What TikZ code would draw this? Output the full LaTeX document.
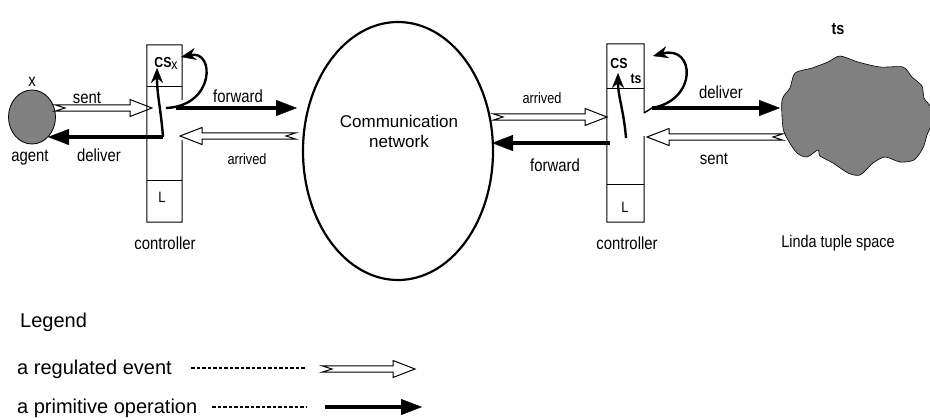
\documentclass[tikz,border=0pt]{standalone}
\usepackage{fontspec}
\setmainfont{Liberation Sans}
\newfontfamily\narrowsf{Liberation Sans}[FakeStretch=0.85]
\usetikzlibrary{positioning, arrows.meta, shapes.geometric, calc}
\definecolor{blobgray}{HTML}{808080}

\begin{document}
\begin{tikzpicture}[
    x=1pt, y=-1pt,
    lbl/.style={font=\narrowsf\fontsize{17.5}{20}\selectfont, inner sep=0pt},
    smalllbl/.style={font=\narrowsf\fontsize{15}{18}\selectfont, inner sep=0pt},
    boldlbl/.style={font=\narrowsf\bfseries\fontsize{14.5}{17}\selectfont, inner sep=0pt},
    legendtxt/.style={font=\fontsize{20}{24}\selectfont, inner sep=0pt, anchor=west},
    controller/.style={rectangle, minimum width=35pt, minimum height=177pt, inner sep=0pt},
    ctlline/.style={line width=1pt},
    divider/.style={line width=1.3pt},
    primitive/.style={line width=4pt, -{Triangle[length=21pt, width=16pt, line width=0.4pt]}},
    curvy/.style={line width=2.4pt, -{Stealth[length=15pt, width=12pt, line width=0.4pt]}},
    regulated/.style={draw=black, fill=white, line width=1pt, line join=miter,
      to path={let \p1=(\tikztostart), \p2=(\tikztotarget),
        \n1={ifthenelse(\x2>\x1,1,-1)} in
        ({\x1},{\y2+3.2pt}) -- ({\x2-\n1*22pt},{\y2+3.2pt}) -- ({\x2-\n1*22pt},{\y2+8.5pt})
        -- ({\x2},{\y2}) -- ({\x2-\n1*22pt},{\y2-8.5pt}) -- ({\x2-\n1*22pt},{\y2-3.2pt})
        -- ({\x1},{\y2-3.2pt}) -- ({\x1+\n1*10pt},{\y2}) -- cycle}},
    dashline/.style={line width=1.2pt, dash pattern=on 3.5pt off 2pt},
]
\useasboundingbox (0,0) rectangle (930,418);

% === Agent ===
\node[ellipse, draw, fill=blobgray, line width=0.8pt, minimum width=47pt,
      minimum height=54pt, inner sep=0pt] (agent) at (32,117) {};
\node[lbl] (agentx) at (32,82) {x};
\node[lbl] (agentlbl) at (30,158) {agent};

% === Communication network ===
\node[ellipse, draw, line width=2.2pt, minimum width=190pt,
      minimum height=258pt, inner sep=0pt] (net) at (398,151) {};
\node[font=\fontsize{17}{20}\selectfont, align=center, inner sep=0pt] (nettxt)
  at (399,131) {Communication\\network};

% === Linda tuple space ===
\draw[fill=blobgray, line width=0.6pt] plot[smooth cycle, tension=0.45] coordinates {
  (790,88) (795,73) (812,68) (828,62) (840,56) (858,62) (880,67) (903,67)
  (912,77) (922,86) (924,98) (931,108) (931,125) (927,135) (923,148) (914,160)
  (900,162) (885,157) (873,163) (860,175) (848,173) (833,163) (820,156)
  (818,150) (807,157) (797,153) (788,140) (783,128) (782,100)};
\node[boldlbl, font=\narrowsf\bfseries\fontsize{17}{20}\selectfont] (tstop) at (838,29) {ts};
\node[lbl, font=\narrowsf\fontsize{17}{20}\selectfont] (lindalbl) at (838,243) {Linda tuple space};

% === Controllers ===
\node[controller] (lctl) at (164.5,133.5) {};
\node[controller, minimum width=37pt, minimum height=178pt] (rctl) at (625.5,133) {};

% === Arrow end points ===
\coordinate (lsentA) at (55,108);   \coordinate (lsentB) at (152,108);
\coordinate (ldelA)  at (163,137);  \coordinate (ldelB)  at (48,137);
\coordinate (lfwdA)  at (176,108);  \coordinate (lfwdB)  at (297,108);
\coordinate (larrA)  at (296,136);  \coordinate (larrB)  at (180,136);
\coordinate (rarrA)  at (493,117);  \coordinate (rarrB)  at (607,117);
\coordinate (rfwdA)  at (610,143);  \coordinate (rfwdB)  at (492,143);
\coordinate (rdelC)  at (644,113);
\coordinate (rdelA)  at (652,108);  \coordinate (rdelB)  at (780,108);
\coordinate (rsentA) at (783,137);  \coordinate (rsentB) at (647,137);

% === Arrows ===
\draw[regulated] (lsentA) to (lsentB);
\draw[primitive] (ldelA) -- (ldelB);
\draw[primitive] (lfwdA) -- (lfwdB);
\draw[regulated] (larrA) to (larrB);
\draw[regulated] (rarrA) to (rarrB);
\draw[primitive] (rfwdA) -- (rfwdB);
\draw[line width=1.5pt] (rdelC) -- (rdelA);
\draw[primitive] (rdelA) -- (rdelB);
\draw[regulated] (rsentA) to (rsentB);

% === Controller outlines ===
\coordinate (lgapA) at (182,100); \coordinate (lgapB) at (182,140);
\coordinate (rgapA) at (644,113); \coordinate (rgapB) at (644,136);
\draw[ctlline] (lgapA) -- (lctl.north east) -- (lctl.north west)
  -- (lctl.south west) -- (lctl.south east) -- (lgapB);
\draw[ctlline] (rgapA) -- (rctl.north east) -- (rctl.north west)
  -- (rctl.south west) -- (rctl.south east) -- (rgapB);
\draw[divider] ($(lctl.north west)+(0,42)$) -- ($(lctl.north east)+(0,42)$);
\draw[divider] ($(lctl.north west)+(0,136)$) -- ($(lctl.north east)+(0,136)$);
\draw[divider] ($(rctl.north west)+(0,45)$) -- ($(rctl.north east)+(0,45)$);
\draw[divider] ($(rctl.north west)+(0,141)$) -- ($(rctl.north east)+(0,141)$);

\node[boldlbl] (lcs) at (166,63) {CS\raisebox{-2pt}{\mdseries x}};
\node[boldlbl] (rcs) at (619,64) {CS};
\node[boldlbl] (rts) at (636,78.5) {ts};
\node[smalllbl] (lL) at (162,197) {L};
\node[smalllbl] (rL) at (625,207) {L};
\node[lbl] (lctllbl) at (165,243.5) {controller};
\node[lbl] (rctllbl) at (627,243) {controller};

% === Inner curved arrows ===
\draw[curvy] (ldelA) .. controls (161,110) and (157,95) .. (157,68);
\draw[curvy] (166,108) .. controls (215,106) and (215,50) .. (181,57);
\draw[curvy] (626,138) .. controls (624,112) and (618,96) .. (618,73);
\draw[curvy] (rdelA) .. controls (698,100) and (695,45) .. (653,56);

% === Arrow labels ===
\node[lbl] (lsentlbl) at (87,98) {sent};
\node[lbl] (ldellbl) at (99,155) {deliver};
\node[lbl] (lfwdlbl) at (238,96) {forward};
\node[smalllbl] (larrlbl) at (247,159) {arrived};
\node[smalllbl] (rarrlbl) at (542,98.5) {arrived};
\node[lbl] (rfwdlbl) at (555,165) {forward};
\node[lbl] (rdellbl) at (721,92) {deliver};
\node[lbl] (rsentlbl) at (714,158.5) {sent};

% === Legend ===
\node[legendtxt] (legend) at (20,322) {Legend};
\node[legendtxt] (regtxt) at (17,369) {a regulated event};
\node[legendtxt] (primtxt) at (17,408) {a primitive operation};
\coordinate (regdashA) at (191,368);  \coordinate (regdashB) at (306,368);
\coordinate (primdashA) at (212,407); \coordinate (primdashB) at (306,407);
\coordinate (regA) at (322,369);   \coordinate (regB) at (415,369);
\coordinate (primA) at (325,407);  \coordinate (primB) at (422,407);
\draw[dashline] (regdashA) -- (regdashB);
\draw[dashline] (primdashA) -- (primdashB);
\draw[regulated] (regA) to (regB);
\draw[primitive] (primA) -- (primB);

\end{tikzpicture}
\end{document}
